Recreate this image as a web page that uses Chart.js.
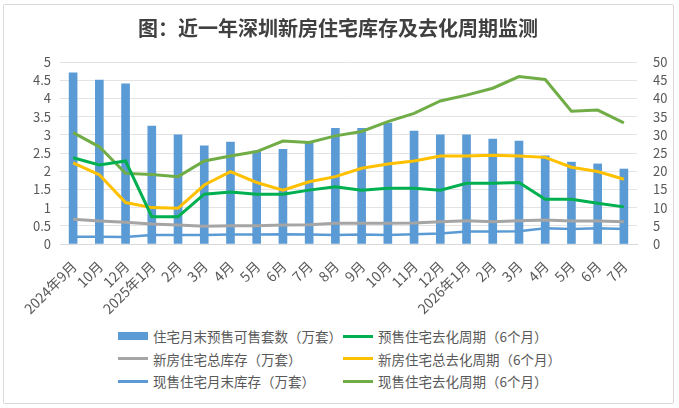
<!DOCTYPE html>
<html lang="zh">

<head>
    <meta charset="UTF-8">
    <title>深圳新房住宅库存及去化周期</title>
    <style>
        html,
        body {
            margin: 0;
            padding: 0;
            background: #ffffff;
            font-family: "Noto Sans CJK SC", "Noto Sans", sans-serif;
        }

        .frame {
            position: absolute;
            left: 3px;
            top: 4px;
            width: 669px;
            height: 398px;
            border: 1px solid #d9d9d9;
            border-radius: 2px;
        }

        #chart {
            position: absolute;
            left: 0;
            top: 0;
        }

        .legend {
            position: absolute;
            top: 326px;
            left: 0;
            width: 679px;
            font-size: 13.5px;
            color: #595959;
        }

        .legend-item {
            position: absolute;
            display: flex;
            align-items: center;
            height: 20px;
            white-space: nowrap;
        }

        .swatch {
            width: 30px;
            margin-right: 5px;
        }
    </style>
    <script src="https://cdn.jsdelivr.net/npm/chart.js"></script>
</head>

<body>
    <div class="frame"></div>
    <canvas id="chart" width="679" height="320"></canvas>
    <div class="legend" id="legend"></div>

    <script>
        const months = ['2024年9月', '10月', '12月', '2025年1月', '2月', '3月', '4月', '5月', '6月', '7月', '8月',
            '9月', '10月', '11月', '12月', '2026年1月', '2月', '3月', '4月', '5月', '6月', '7月'];

        // 左轴（万套）
        const presaleUnits = [4.7, 4.5, 4.4, 3.24, 3.0, 2.7, 2.8, 2.55, 2.6, 2.78, 3.18,
            3.18, 3.32, 3.1, 3.0, 3.0, 2.88, 2.83, 2.42, 2.25, 2.2, 2.06];
        const totalStock = [0.68, 0.63, 0.6, 0.55, 0.52, 0.49, 0.5, 0.5, 0.52, 0.53, 0.57,
            0.57, 0.57, 0.58, 0.61, 0.64, 0.61, 0.64, 0.66, 0.63, 0.63, 0.61];
        const readyStock = [0.2, 0.2, 0.19, 0.25, 0.25, 0.25, 0.26, 0.26, 0.27, 0.26, 0.25,
            0.26, 0.25, 0.27, 0.29, 0.34, 0.34, 0.35, 0.43, 0.41, 0.43, 0.41];

        // 右轴（个月）
        const presaleCycle = [23.7, 21.7, 22.8, 7.5, 7.5, 13.7, 14.3, 13.7, 13.7, 14.8, 15.7,
            14.8, 15.3, 15.3, 14.8, 16.7, 16.7, 16.9, 12.3, 12.3, 11.2, 10.2];
        const totalCycle = [22.3, 19.0, 11.4, 10.0, 9.8, 16.2, 19.9, 16.9, 14.8, 17.1, 18.5,
            20.8, 22.0, 22.8, 24.2, 24.2, 24.4, 24.2, 23.8, 21.1, 19.9, 17.8];
        const readyCycle = [30.6, 26.7, 19.4, 19.1, 18.5, 22.8, 24.2, 25.4, 28.3, 27.9, 29.7,
            30.9, 33.6, 35.9, 39.3, 40.9, 42.8, 46.0, 45.2, 36.5, 36.8, 33.3];

        const leftTicks = [0, 0.5, 1, 1.5, 2, 2.5, 3, 3.5, 4, 4.5, 5];
        const rightTicks = [0, 5, 10, 15, 20, 25, 30, 35, 40, 45, 50];

        const FONT = '"Noto Sans CJK SC", "Noto Sans", sans-serif';
        const TICK_COLOR = '#595959';

        function line(label, data, color, width, axis) {
            return {
                type: 'line',
                label: label,
                data: data,
                yAxisID: axis,
                borderColor: color,
                backgroundColor: color,
                borderWidth: width,
                pointRadius: 0,
                tension: 0,
                order: 0
            };
        }

        const datasets = [
            {
                type: 'bar',
                label: '住宅月末预售可售套数（万套）',
                data: presaleUnits,
                yAxisID: 'y',
                backgroundColor: '#5b9bd5',
                barThickness: 8,
                order: 1
            },
            line('预售住宅去化周期（6个月）', presaleCycle, '#00b050', 3, 'y1'),
            line('新房住宅总库存（万套）', totalStock, '#a5a5a5', 3, 'y'),
            line('新房住宅总去化周期（6个月）', totalCycle, '#ffc000', 3, 'y1'),
            line('现售住宅月末库存（万套）', readyStock, '#5b9bd5', 2.5, 'y'),
            line('现售住宅去化周期（6个月）', readyCycle, '#70ad47', 3, 'y1')
        ];

        const chart = new Chart(document.getElementById('chart'), {
            data: { labels: months, datasets: datasets },
            options: {
                responsive: false,
                animation: false,
                layout: { padding: { left: 3, right: 6, top: 0, bottom: 0 } },
                plugins: {
                    legend: { display: false },
                    tooltip: { enabled: false },
                    title: {
                        display: true,
                        text: '图：近一年深圳新房住宅库存及去化周期监测',
                        color: '#404040',
                        font: { family: FONT, size: 20, weight: 'bold' },
                        padding: { top: 16, bottom: 22 }
                    }
                },
                scales: {
                    x: {
                        grid: { display: false },
                        border: { color: '#d9d9d9' },
                        ticks: {
                            autoSkip: false,
                            minRotation: 45,
                            maxRotation: 45,
                            padding: 6,
                            labelOffset: 1,
                            color: TICK_COLOR,
                            font: { family: FONT, size: 14 }
                        },
                        afterFit: s => { s.height = 76; }
                    },
                    y: {
                        position: 'left',
                        min: 0,
                        max: 5,
                        grid: { color: '#e3e3e3', drawTicks: false },
                        border: { display: false },
                        afterBuildTicks: s => { s.ticks = leftTicks.map(v => ({ value: v })); },
                        ticks: {
                            autoSkip: false,
                            color: TICK_COLOR,
                            padding: 9,
                            font: { family: FONT, size: 13 },
                            callback: v => String(v)
                        },
                        afterFit: s => { s.width = 57; }
                    },
                    y1: {
                        position: 'right',
                        min: 0,
                        max: 50,
                        grid: { display: false },
                        border: { display: false },
                        afterBuildTicks: s => { s.ticks = rightTicks.map(v => ({ value: v })); },
                        ticks: {
                            autoSkip: false,
                            color: TICK_COLOR,
                            padding: 8,
                            font: { family: FONT, size: 13 },
                            callback: v => String(v)
                        },
                        afterFit: s => { s.width = 36; }
                    }
                }
            }
        });

        // 两列三行图例，按数据集顺序排列
        const legendEl = document.getElementById('legend');
        const colX = [118, 343];
        const rowY = [0, 22.5, 45];
        chart.data.datasets.forEach((ds, i) => {
            const item = document.createElement('div');
            item.className = 'legend-item';
            item.style.left = colX[i % 2] + 'px';
            item.style.top = rowY[Math.floor(i / 2)] + 'px';
            const sw = document.createElement('span');
            sw.className = 'swatch';
            sw.style.background = ds.type === 'bar' ? ds.backgroundColor : ds.borderColor;
            sw.style.height = ds.type === 'bar' ? '8px' : '3px';
            const txt = document.createElement('span');
            txt.textContent = ds.label;
            item.appendChild(sw);
            item.appendChild(txt);
            legendEl.appendChild(item);
        });
    </script>
</body>

</html>
